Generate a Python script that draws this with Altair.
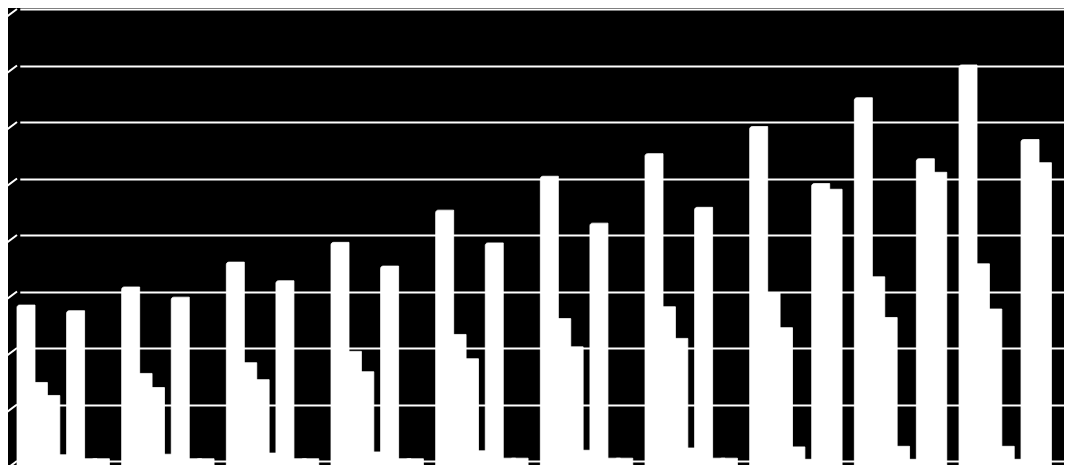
import altair as alt
import pandas as pd

groups = ["1", "2", "3", "4", "5", "6", "7", "8", "9", "10"]
series = ["S1", "S2", "S3", "S4", "S5", "S6", "S7"]

s1 = [27.6, 30.8, 35.2, 38.7, 44.4, 50.4, 54.4, 59.2, 64.3, 70.1]
s2 = [13.9, 15.5, 17.4, 19.4, 22.4, 25.2, 27.3, 29.8, 32.6, 34.9]
s3 = [11.6, 13.0, 14.4, 15.8, 18.1, 20.2, 21.7, 23.6, 25.4, 26.9]
s4 = [1.1, 1.2, 1.4, 1.6, 1.8, 1.9, 2.3, 2.5, 2.6, 2.6]
s5 = [26.6, 29.0, 31.9, 34.5, 38.6, 42.1, 44.9, 0.3, 0.3, 0.3]
s6 = [0.4, 0.4, 0.4, 0.4, 0.5, 0.5, 0.5, 49.1, 53.5, 56.9]
s7 = [0.4, 0.4, 0.4, 0.4, 0.5, 0.5, 0.5, 48.1, 51.1, 52.8]

grid_values = [0, 10, 20, 30, 40, 50, 60, 70, 80]

rows = []
for name, vals in zip(series, [s1, s2, s3, s4, s5, s6, s7]):
    for g, v in zip(groups, vals):
        rows.append({"group": g, "series": name, "value": v})
df = pd.DataFrame(rows)
grid_df = pd.DataFrame({"g": grid_values})

yscale = alt.Scale(domain=[0, 80], nice=False, zero=True)

bars = alt.Chart(df).mark_bar(
    color="white", stroke="white", strokeWidth=0.8,
    width=18, y2Offset=4, cornerRadiusTopLeft=2.5
).encode(
    x=alt.X("group:N", sort=groups, axis=None,
            scale=alt.Scale(paddingInner=0.1707, paddingOuter=0.0868, align=0,
                            range=[2.8, 1049.8])),
    xOffset=alt.XOffset("series:N", sort=series,
                        scale=alt.Scale(paddingInner=0, paddingOuter=0)),
    y=alt.Y("value:Q", scale=yscale,
            axis=alt.Axis(grid=True, labels=False, ticks=False, domain=False, title=None,
                          values=grid_values, gridColor="white", gridWidth=2, gridOpacity=1)),
    y2=alt.datum(0),
)

diag = alt.Chart(grid_df).mark_rule(color="white", strokeWidth=2, y2Offset=9).encode(
    x=alt.value(0),
    x2=alt.value(-12),
    y=alt.Y("g:Q", scale=yscale),
    y2=alt.Y2("g"),
)

chart = alt.layer(diag, bars).properties(
    width=1047,
    height=452,
    autosize=alt.AutoSizeParams(type="none"),
    padding={"left": 9, "top": 1, "right": 0, "bottom": 4},
    background="black",
).configure_view(stroke=None)

chart.save("out.html", embed_options={"renderer": "svg", "actions": False})
